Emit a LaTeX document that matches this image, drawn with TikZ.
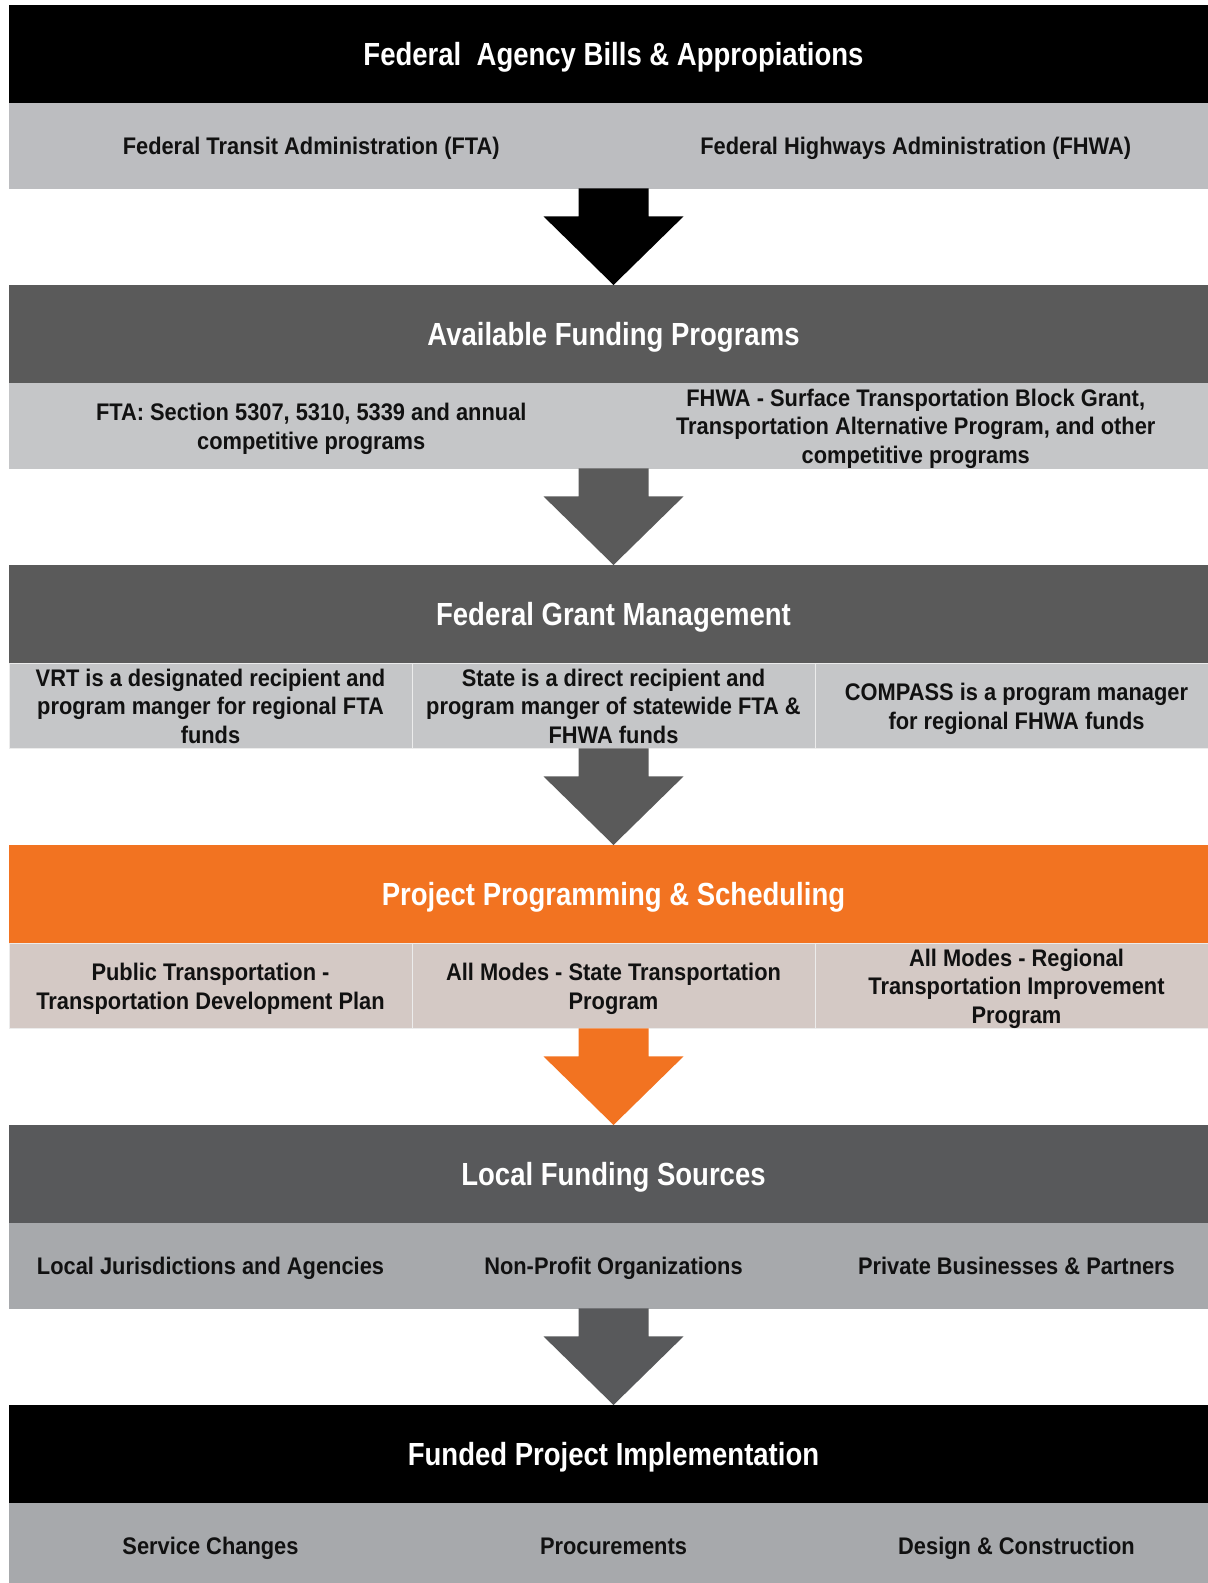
\documentclass[tikz,border=0pt]{standalone}
\usepackage{fontspec}
\usetikzlibrary{calc}
\newfontfamily\condfont{Liberation Sans}[FakeStretch=0.86]
\newfontfamily\condsub{Liberation Sans}[FakeStretch=0.91]

% couleurs des bandeaux
\definecolor{noir}{HTML}{000000}
\definecolor{grisFonce}{HTML}{5A5A5A}
\definecolor{grisAnthra}{HTML}{58595B}
\definecolor{grisClair}{HTML}{BCBDC0}
\definecolor{grisPale}{HTML}{C5C6C8}
\definecolor{grisMoyen}{HTML}{A7A9AC}
\definecolor{orange}{HTML}{F27321}
\definecolor{beige}{HTML}{D4C9C5}
\definecolor{texteNoir}{HTML}{111111}

% etais pour centrer les capitales dans les bandeaux
\newcommand{\EtaiTitre}{\rule[-6.5pt]{0pt}{36pt}}
\newcommand{\EtaiCase}{\rule[-5.5pt]{0pt}{28pt}}
% texte sur plusieurs lignes, un peu descendu
\newcommand{\Lignes}[1]{\raisebox{-3.5pt}[\height][\depth]{\begin{tabular}{@{}c@{}}#1\end{tabular}}}

\tikzset{
  titre/.style={anchor=north, minimum width=1209pt, minimum height=98pt,
    inner sep=0pt, text=white,
    execute at begin node=\EtaiTitre,
    font=\condfont\bfseries\fontsize{32}{36}\selectfont},
  case2/.style={anchor=north, minimum width=604.5pt, minimum height=85pt,
    inner sep=0pt, align=center, text=texteNoir, draw=white!85!gray, line width=0.6pt,
    execute at begin node=\EtaiCase, execute at end node=\EtaiCase,
    font=\condsub\bfseries\fontsize{24}{28.3}\selectfont},
  case3/.style={case2, minimum width=403pt},
}

% fleche bloc entre deux bandeaux : #1 bandeau du haut, #2 bandeau du bas, #3 couleur
\newcommand{\Fleche}[3]{%
  \fill[#3] let \p1=(#1.south), \p2=(#2.north) in
    (\x1-35,\y1-85) -- (\x1-35,\y1-113) -- (\x1-70,\y1-113) -- (\p2)
    -- (\x1+70,\y1-113) -- (\x1+35,\y1-113) -- (\x1+35,\y1-85) -- cycle;}

\begin{document}
\begin{tikzpicture}[x=1pt,y=1pt]
\useasboundingbox (0,0) rectangle (1208,-1583);
\clip (0,0) rectangle (1208,-1583);

    %Position du centre des bandeaux
    \def \Centre {613.5}
    %Hauteur du cycle bandeau + fleche
    \def \Pas {280}

% bandeau 1
\node[titre, fill=noir] (titre1) at (\Centre,-5) {Federal\ \ Agency Bills \& Appropiations};
\node[case2, fill=grisClair, draw=grisClair] (fta) at (311.25,-103) {Federal Transit Administration (FTA)};
\node[case2, fill=grisClair, draw=grisClair] (fhwa) at (915.75,-103) {Federal Highways Administration (FHWA)};

% bandeau 2
\node[titre, fill=grisFonce] (titre2) at (\Centre,-5-\Pas) {Available Funding Programs};
\node[case2, fill=grisPale, draw=grisPale] (prog fta) at (311.25,-103-\Pas) {\Lignes{FTA: Section 5307, 5310, 5339 and annual\\competitive programs}};
\node[case2, fill=grisPale, draw=grisPale] (prog fhwa) at (915.75,-103-\Pas) {\Lignes{FHWA - Surface Transportation Block Grant,\\Transportation Alternative Program, and other\\competitive programs}};

% bandeau 3
\node[titre, fill=grisFonce] (titre3) at (\Centre,-5-2*\Pas) {Federal Grant Management};
\node[case3, fill=grisPale] (vrt) at (210.5,-103-2*\Pas) {\Lignes{VRT is a designated recipient and\\program manger for regional FTA\\funds}};
\node[case3, fill=grisPale] (state) at (613.5,-103-2*\Pas) {\Lignes{State is a direct recipient and\\program manger of statewide FTA \&\\FHWA funds}};
\node[case3, fill=grisPale] (compass) at (1016.5,-103-2*\Pas) {\Lignes{COMPASS is a program manager\\for regional FHWA funds}};

% bandeau 4
\node[titre, fill=orange] (titre4) at (\Centre,-5-3*\Pas) {Project Programming \& Scheduling};
\node[case3, fill=beige] (tdp) at (210.5,-103-3*\Pas) {\Lignes{Public Transportation -\\Transportation Development Plan}};
\node[case3, fill=beige] (stip) at (613.5,-103-3*\Pas) {\Lignes{All Modes - State Transportation\\Program}};
\node[case3, fill=beige] (rtip) at (1016.5,-103-3*\Pas) {\Lignes{All Modes - Regional\\Transportation Improvement\\Program}};

% bandeau 5
\node[titre, fill=grisAnthra] (titre5) at (\Centre,-5-4*\Pas) {Local Funding Sources};
\node[case3, fill=grisMoyen, draw=grisMoyen] (locales) at (210.5,-103-4*\Pas) {Local Jurisdictions and Agencies};
\node[case3, fill=grisMoyen, draw=grisMoyen] (nonprofit) at (613.5,-103-4*\Pas) {Non-Profit Organizations};
\node[case3, fill=grisMoyen, draw=grisMoyen] (prives) at (1016.5,-103-4*\Pas) {Private Businesses \& Partners};

% bandeau 6
\node[titre, fill=noir] (titre6) at (\Centre,-5-5*\Pas) {Funded Project Implementation};
\node[case3, fill=grisMoyen, draw=grisMoyen] (service) at (210.5,-103-5*\Pas) {Service Changes};
\node[case3, fill=grisMoyen, draw=grisMoyen] (achats) at (613.5,-103-5*\Pas) {Procurements};
\node[case3, fill=grisMoyen, draw=grisMoyen] (travaux) at (1016.5,-103-5*\Pas) {Design \& Construction};

% fleches
\Fleche{titre1}{titre2}{noir}
\Fleche{titre2}{titre3}{grisFonce}
\Fleche{titre3}{titre4}{grisFonce}
\Fleche{titre4}{titre5}{orange}
\Fleche{titre5}{titre6}{grisAnthra}

\end{tikzpicture}
\end{document}
